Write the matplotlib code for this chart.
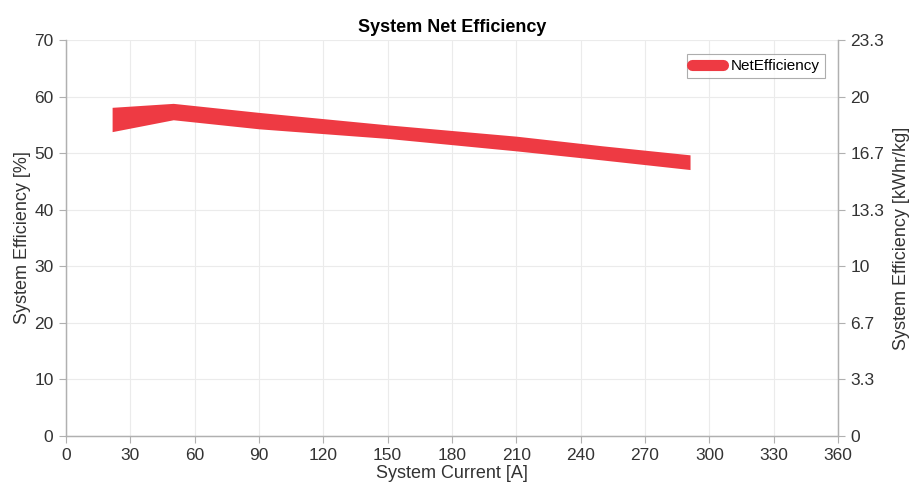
import matplotlib.pyplot as plt
import numpy as np
from matplotlib.lines import Line2D

plt.rcParams['font.family'] = 'Liberation Sans'
plt.rcParams['font.size'] = 12

# band of net efficiency (upper / lower edge)
current = [21.5, 50, 90, 150, 210, 250, 291]
eff_upper = [58.1, 58.8, 57.2, 55.0, 53.0, 51.3, 49.7]
eff_lower = [53.8, 55.9, 54.3, 52.6, 50.4, 48.8, 47.1]

x_ticks = list(range(0, 361, 30))
y_ticks = list(range(0, 71, 10))
right_labels = ['0', '3.3', '6.7', '10', '13.3', '16.7', '20', '23.3']

red = '#EE3A43'
axis_col = '#b0b0b0'
text_col = '#333333'

fig = plt.figure(figsize=(9.09, 4.95), dpi=100)
ax = fig.add_axes([66 / 909, 59 / 495, 772 / 909, 396 / 495])

ax.fill_between(current, eff_lower, eff_upper, color=red, linewidth=0)

ax.set_xlim(0, 360)
ax.set_ylim(0, 70)
ax.set_xticks(x_ticks)
ax.set_yticks(y_ticks)
ax.grid(True, color='#ebebeb', linewidth=0.8)
ax.set_axisbelow(True)
ax.set_xlabel('System Current [A]', fontsize=13, labelpad=1, color=text_col)
ax.set_ylabel('System Efficiency [%]', fontsize=13, labelpad=2, color=text_col)
ax.set_title('System Net Efficiency', fontsize=13, fontweight='bold', pad=6)

for s in ax.spines.values():
    s.set_color(axis_col)
    s.set_linewidth(0.9)
ax.spines['top'].set_visible(False)
ax.tick_params(direction='out', length=5, color=axis_col, labelcolor=text_col,
               labelsize=12.5, pad=4)

ax2 = ax.twinx()
ax2.set_ylim(0, 70)
ax2.set_yticks(y_ticks)
ax2.set_yticklabels(right_labels)
ax2.set_ylabel('System Efficiency [kWhr/kg]', fontsize=13, labelpad=6, color=text_col)
ax2.tick_params(direction='out', length=5, color=axis_col, labelcolor=text_col,
                labelsize=12.5, pad=4)
for s in ax2.spines.values():
    s.set_color(axis_col)
    s.set_linewidth(0.9)
ax2.spines['top'].set_visible(False)

handle = Line2D([0], [0], color=red, linewidth=8, solid_capstyle='round')
leg = ax.legend([handle], ['NetEfficiency'], loc='upper right', fontsize=11,
                fancybox=False, edgecolor='#999999', handlelength=2.0,
                borderpad=0.35, handletextpad=0.5, bbox_to_anchor=(0.993, 0.985))
leg.get_frame().set_linewidth(0.8)

fig.savefig('out.png', dpi=100, facecolor='white')
